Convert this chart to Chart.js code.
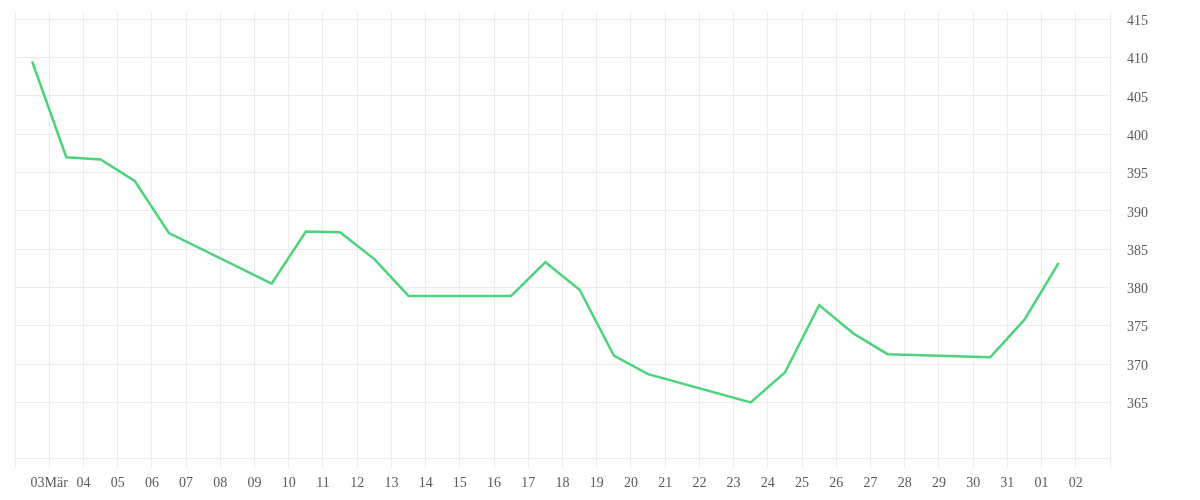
<!DOCTYPE html>
<html>
<head>
<meta charset="utf-8">
<script src="https://cdn.jsdelivr.net/npm/chart.js@4/dist/chart.umd.min.js"></script>
<style>
  body { margin: 0; background: #fff; }
  #wrap { width: 1200px; height: 500px; }
</style>
</head>
<body>
<div id="wrap"><canvas id="priceChart" width="1200" height="500"></canvas></div>
<script>
// day index from 02 Mar (0) to 03 Apr (32), points sit at midday
var dayLabels = ["", "03Mär", "04", "05", "06", "07", "08", "09", "10", "11", "12", "13", "14", "15", "16",
  "17", "18", "19", "20", "21", "22", "23", "24", "25", "26", "27", "28", "29", "30", "31", "01", "02", ""];
var pointDays = [0.5, 1.5, 2.5, 3.5, 4.5, 7.5, 8.5, 9.5, 10.5, 11.5, 14.5, 15.5, 16.5, 17.5, 18.5,
  21.5, 22.5, 23.5, 24.5, 25.5, 28.5, 29.5, 30.5];
var prices = [409.5, 397.0, 396.7, 393.9, 387.1, 380.5, 387.3, 387.2, 383.7, 378.9, 378.9, 383.3, 379.7,
  371.1, 368.7, 365.0, 368.9, 377.7, 374.0, 371.3, 370.9, 375.8, 383.2];
var yTicks = [365, 370, 375, 380, 385, 390, 395, 400, 405, 410, 415];

var points = [];
for (var i = 0; i < pointDays.length; i++) {
  points.push({ x: pointDays[i], y: prices[i] });
}

var gridColor = "#ececec";
var textColor = "#5a5a5a";

var ctx = document.getElementById("priceChart").getContext("2d");
var chart = new Chart(ctx, {
  type: "line",
  data: {
    datasets: [{
      data: points,
      borderColor: "#4cd37b",
      borderWidth: 2.5,
      pointRadius: 0,
      tension: 0,
      fill: false
    }]
  },
  options: {
    responsive: false,
    animation: false,
    layout: { padding: { left: 15, top: 12, right: 0, bottom: 0 } },
    plugins: {
      legend: { display: false },
      tooltip: { enabled: false }
    },
    scales: {
      x: {
        type: "linear",
        min: 0,
        max: dayLabels.length - 1,
        afterBuildTicks: function(scale) {
          scale.ticks = dayLabels.map(function(l, idx) { return { value: idx }; });
        },
        afterFit: function(scale) {
          scale.height = 42;
          scale.paddingLeft = 0;
          scale.paddingRight = 0;
        },
        grid: { color: gridColor, drawTicks: true, tickLength: 10 },
        border: { display: true, color: gridColor },
        ticks: {
          autoSkip: false,
          maxRotation: 0,
          padding: 7,
          color: textColor,
          font: { family: "Liberation Serif", size: 14 },
          callback: function(value) { return dayLabels[Math.round(value)]; }
        }
      },
      y: {
        position: "right",
        min: 357.75,
        max: 415.95,
        afterBuildTicks: function(scale) {
          scale.ticks = yTicks.map(function(v) { return { value: v }; });
        },
        afterFit: function(scale) {
          scale.width = 90;
          scale.paddingTop = 0;
          scale.paddingBottom = 0;
        },
        grid: { color: gridColor, drawTicks: false },
        border: { display: false },
        ticks: {
          padding: 17,
          labelOffset: 2,
          color: textColor,
          font: { family: "Liberation Serif", size: 14 }
        }
      }
    }
  }
});
</script>
</body>
</html>
